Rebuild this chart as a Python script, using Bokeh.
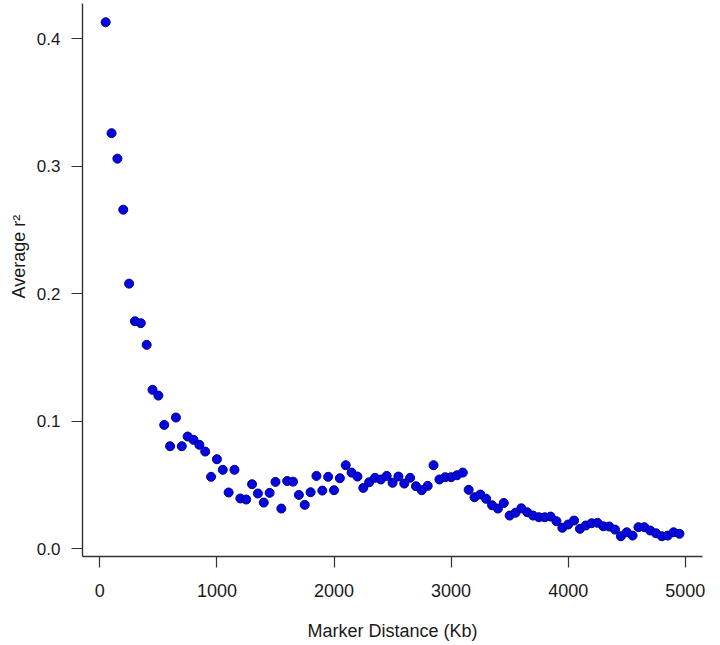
from bokeh.plotting import figure
from bokeh.models import FixedTicker, PrintfTickFormatter, Range1d, ColumnDataSource, Title
from bokeh.embed import file_html
from bokeh.resources import INLINE

# Marker distance (Kb), one point every 50 Kb
distance_kb = [
    50, 100, 150, 200, 250, 300, 350, 400, 450, 500,
    550, 600, 650, 700, 750, 800, 850, 900, 950, 1000,
    1050, 1100, 1150, 1200, 1250, 1300, 1350, 1400, 1450, 1500,
    1550, 1600, 1650, 1700, 1750, 1800, 1850, 1900, 1950, 2000,
    2050, 2100, 2150, 2200, 2250, 2300, 2350, 2400, 2450, 2500,
    2550, 2600, 2650, 2700, 2750, 2800, 2850, 2900, 2950, 3000,
    3050, 3100, 3150, 3200, 3250, 3300, 3350, 3400, 3450, 3500,
    3550, 3600, 3650, 3700, 3750, 3800, 3850, 3900, 3950, 4000,
    4050, 4100, 4150, 4200, 4250, 4300, 4350, 4400, 4450, 4500,
    4550, 4600, 4650, 4700, 4750, 4800, 4850, 4900, 4950,
]

# Average r^2
average_r2 = [
    0.413, 0.326, 0.306, 0.266, 0.208, 0.1785, 0.177, 0.160, 0.1247, 0.1202,
    0.0972, 0.0805, 0.103, 0.0805, 0.0881, 0.0855, 0.0816, 0.0763, 0.0565, 0.0703,
    0.062, 0.0442, 0.062, 0.0395, 0.0387, 0.0507, 0.0434, 0.0363, 0.0439, 0.0525,
    0.0316, 0.0532, 0.0527, 0.0423, 0.0345, 0.0444, 0.0572, 0.0457, 0.0565, 0.046,
    0.0554, 0.0656, 0.0598, 0.0567, 0.0478, 0.0522, 0.0557, 0.0544, 0.0572, 0.0518,
    0.0567, 0.0512, 0.0557, 0.0491, 0.046, 0.0494, 0.0656, 0.0544, 0.0562, 0.0562,
    0.0577, 0.0598, 0.0463, 0.0405, 0.0426, 0.0392, 0.0342, 0.0316, 0.036, 0.0261,
    0.0283, 0.0318, 0.0287, 0.0261, 0.0248, 0.0248, 0.0253, 0.0217, 0.0165, 0.0191,
    0.0222, 0.0157, 0.0183, 0.0201, 0.0204, 0.0177, 0.0175, 0.0151, 0.0099, 0.013,
    0.0104, 0.017, 0.017, 0.0144, 0.0122, 0.0099, 0.0104, 0.013, 0.0118,
]

x_ticks = [0, 1000, 2000, 3000, 4000, 5000]
y_ticks = [0.0, 0.1, 0.2, 0.3, 0.4]
x_title = "Marker Distance (Kb)"
y_title = "Average r²"

source = ColumnDataSource(data=dict(x=distance_kb, y=average_r2))

p = figure(
    width=712, height=645,
    output_backend="svg", toolbar_location=None,
    x_range=Range1d(-148, 5147), y_range=Range1d(-0.006, 0.4277),
    min_border_left=82, min_border_right=10, min_border_top=3, min_border_bottom=89,
    background_fill_color="white", border_fill_color="white",
)
p.outline_line_color = None
p.xgrid.visible = False
p.ygrid.visible = False

p.scatter("x", "y", source=source, size=9, marker="circle",
          fill_color="#0505e0", line_color="#00008c", line_width=1)

FONT = "Liberation Sans"
for ax in (p.xaxis[0], p.yaxis[0]):
    ax.axis_line_color = "#333333"
    ax.axis_line_width = 1.4
    ax.major_tick_line_color = "#333333"
    ax.major_tick_line_width = 1.2
    ax.major_tick_out = 11
    ax.major_tick_in = 0
    ax.minor_tick_line_color = None
    ax.major_label_text_font = FONT
    ax.major_label_text_color = "#1a1a1a"
    ax.axis_label_text_font = FONT
    ax.axis_label_text_font_style = "normal"
    ax.axis_label_text_color = "#1a1a1a"
    ax.axis_label_text_font_size = "18px"

p.xaxis.ticker = FixedTicker(ticks=x_ticks)
p.xaxis.major_label_text_font_size = "18px"
p.xaxis.major_label_standoff = 16
p.xaxis.axis_label = x_title
p.xaxis.axis_label_standoff = 21

p.yaxis.ticker = FixedTicker(ticks=y_ticks)
p.yaxis.formatter = PrintfTickFormatter(format="%.1f")
p.yaxis.major_label_text_font_size = "17px"
p.yaxis.major_label_standoff = 11
p.yaxis.major_label_orientation = "horizontal"

# y-axis title as a side title, placed a little above the vertical centre
p.add_layout(Title(
    text=y_title, align="left", offset=258, standoff=10,
    text_font=FONT, text_font_size="18px", text_font_style="normal",
    text_color="#1a1a1a",
), "left")

open("out.html", "w").write(file_html(p, INLINE))
